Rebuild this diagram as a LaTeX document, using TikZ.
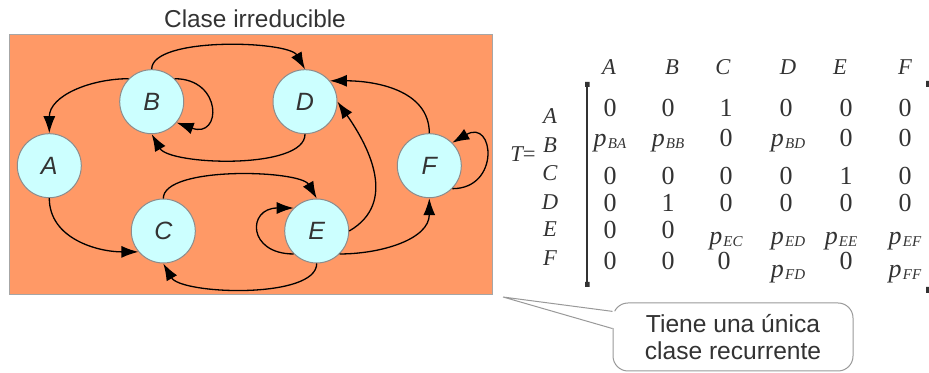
\documentclass[tikz,border=0pt]{standalone}
\usepackage{fontspec}
\setmainfont{Liberation Serif}
\newfontfamily\arialfont{Liberation Sans}
\usetikzlibrary{arrows.meta,calc}
\definecolor{frameorange}{HTML}{FF9966}
\definecolor{statecyan}{HTML}{CCFFFF}
\definecolor{textgray}{HTML}{333333}
\newcommand{\prob}[1]{\textit{p}\kern0.6pt\raisebox{-1pt}{\fontsize{7.5}{8}\selectfont\textit{#1}}}

\begin{document}
\begin{tikzpicture}[
    x=0.5pt, y=0.5pt,
    state/.style={circle, draw=gray!90, line width=0.5pt, fill=statecyan, minimum size=32pt, inner sep=0pt, font=\arialfont\itshape\fontsize{12.5}{14}\selectfont, text=textgray},
    flow/.style={-{Latex[length=8.5pt,width=6pt]}, line width=0.65pt},
    label/.style={anchor=base, font=\itshape\fontsize{11.3}{13}\selectfont, text=textgray},
    entry/.style={anchor=base, font=\fontsize{13}{15}\selectfont, text=textgray},
    note/.style={draw=gray!80, line width=0.5pt, rounded corners=7.5pt, fill=white, minimum width=120pt, minimum height=34pt, align=center, font=\arialfont\fontsize{12.3}{13.5}\selectfont, text=textgray}
]
\useasboundingbox (0,0) rectangle (929,373);
\node[draw=gray!70, line width=0.5pt, fill=frameorange, minimum width=241.7pt, minimum height=130pt, inner sep=0pt] (frame) at (251,208.7) {};
\node[anchor=base, font=\arialfont\fontsize{12.2}{14}\selectfont, text=textgray] (title) at (255,345.7) {Clase irreducible};

\node[state] (A) at (49.3,207.3) {A};
\node[state] (B) at (151.7,271.3) {B};
\node[state] (C) at (163.3,142) {C};
\node[state] (D) at (305,271.3) {D};
\node[state] (E) at (316.7,142) {E};
\node[state] (F) at (429.3,207.3) {F};

\draw[flow] (B.135) to[out=180,in=90] (A.north);
\draw[flow] (B.45) to[out=0,in=-20,looseness=2.8] (B.-40);
\draw[flow] (B.north) to[out=90,in=120,looseness=0.55] (D.north);
\draw[flow] (D.south) to[out=-90,in=-60,looseness=0.6] (B.south);
\draw[flow] (A.south) to[out=-90,in=180] (C.-140);
\draw[flow] (C.north) to[out=90,in=120,looseness=0.55] (E.north);
\draw[flow] (E.-135) to[out=180,in=180,looseness=2.6] (E.135);
\draw[flow] (E.south) to[out=-90,in=-60,looseness=0.6] (C.south);
\draw[flow] (E.east) to[out=30,in=-55,looseness=1.1] (D.east);
\draw[flow] (E.-45) to[out=0,in=-90] (F.south);
\draw[flow] (F.north) to[out=90,in=0] (D.40);
\draw[flow] (F.-45) to[out=0,in=30,looseness=2.7] (F.45);

% transition matrix
\node[label] (T) at (523,211) {T\upshape=};
\foreach \x/\lab in {609/A,672/B,723/C,788/D,840/E,905/F}
    \node[label] (h\lab) at (\x,298) {\lab};
\foreach \y/\lab in {249/A,220/B,192/C,163/D,136/E,107/F}
    \node[label] (r\lab) at (550,\y) {\lab};
\foreach \x/\val [count=\c] in {610/0,668/0,726/1,786/0,846/0,905/0}
    \node[entry] (m1\c) at (\x,256) {\val};
\foreach \x/\val [count=\c] in {610/{\prob{BA}},668/{\prob{BB}},726/0,788/{\prob{BD}},846/0,905/0}
    \node[entry] (m2\c) at (\x,226) {\val};
\foreach \x/\val [count=\c] in {610/0,668/0,726/0,786/0,846/1,905/0}
    \node[entry] (m3\c) at (\x,188) {\val};
\foreach \x/\val [count=\c] in {610/0,668/1,726/0,786/0,846/0,905/0}
    \node[entry] (m4\c) at (\x,161) {\val};
\foreach \x/\y/\val [count=\c] in {610/134/0,668/134/0,726/128/{\prob{EC}},788/128/{\prob{ED}},841/128/{\prob{EE}},905/128/{\prob{EF}}}
    \node[entry] (m5\c) at (\x,\y) {\val};
\foreach \x/\y/\val [count=\c] in {610/103/0,668/103/0,724/103/0,788/95/{\prob{FD}},846/103/0,905/95/{\prob{FF}}}
    \node[entry] (m6\c) at (\x,\y) {\val};
\draw[line width=0.8pt, textgray] (587,291) -- (587,86);
\fill[textgray] (585,286) rectangle (589.5,291) (585,86) rectangle (589.5,91)
    (926,286) rectangle (929,292) (926,80) rectangle (929,86);

% callout
\node[note] (note) at (733,36) {Tiene una única\\clase recurrente};
\coordinate (tip) at (503,76);
\fill[white] (tip) -- ($(note.168)+(3,0)$) -- ($(note.176)+(3,0)$) -- cycle;
\draw[gray!80, line width=0.5pt] (tip) -- (note.168) (tip) -- (note.176);
\end{tikzpicture}
\end{document}
